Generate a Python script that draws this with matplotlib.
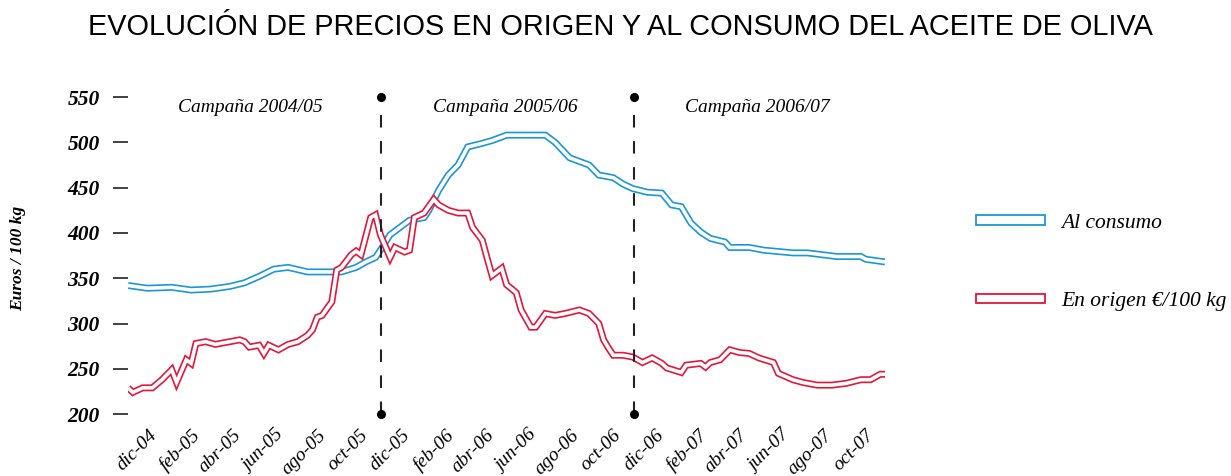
import numpy as np
import pandas as pd
import matplotlib
matplotlib.use("Agg")
import matplotlib.pyplot as plt
from matplotlib.patches import Rectangle

# weekly series, week 0 = 1 Nov 2004
start = pd.Timestamp("2004-11-01")

consumo_weeks = [0, 4, 9, 13, 17, 21, 24, 27, 30, 33, 37, 44, 47, 49, 51, 52, 54, 56, 58, 61,
                 62, 64, 66, 68, 70, 73, 75, 78, 86, 88, 91, 93, 95, 97, 100, 102, 104, 107, 110,
                 112, 114, 116, 118, 120, 123, 124, 128, 131, 135, 137, 140, 146, 151, 152, 156]
consumo_vals = [342, 339, 340, 337, 338, 341, 345, 352, 360, 362, 357, 357, 362, 368, 373, 381, 398,
                406, 414, 417, 425, 447, 464, 475, 495, 499, 502, 508, 508, 500, 483, 479, 475, 464,
                461, 454, 449, 445, 444, 431, 429, 411, 401, 394, 390, 384, 384, 381, 379, 378, 378,
                374, 374, 371, 368]

origen_weeks = [0, 1, 3, 5, 7, 9, 10, 12, 13, 14, 16, 18, 21, 23, 24, 25, 27, 28, 29, 31, 33, 35,
                37, 38, 39, 40, 42, 43, 44, 46, 47, 48, 50, 51, 52, 54, 55, 57, 58, 59, 61, 63, 64,
                66, 68, 70, 71, 73, 74, 75, 77, 78, 80, 81, 83, 84, 86, 88, 90, 93, 95, 97, 98, 99,
                100, 102, 104, 106, 108, 110, 111, 114, 115, 118, 119, 120, 122, 124, 126, 128, 130,
                133, 134, 137, 139, 142, 145, 148, 151, 153, 155, 156]
origen_vals = [229, 224, 229, 229, 238, 249, 235, 260, 256, 278, 280, 277, 280, 282, 280, 274, 276,
               267, 276, 271, 277, 280, 287, 293, 307, 309, 324, 359, 362, 376, 380, 376, 417, 420,
               398, 373, 384, 379, 381, 417, 422, 437, 431, 425, 422, 422, 406, 392, 372, 353, 361,
               343, 334, 315, 296, 296, 311, 309, 311, 315, 311, 300, 282, 273, 265, 265, 263, 257,
               262, 256, 251, 246, 254, 256, 252, 257, 260, 271, 268, 267, 262, 257, 245, 238, 235,
               232, 232, 234, 238, 238, 244, 244]

campaign_starts = ["2005-11-01", "2006-11-01"]
campaign_labels = ["Campaña 2004/05", "Campaña 2005/06", "Campaña 2006/07"]
campaign_centers = ["2005-04-27", "2006-04-29", "2007-04-27"]

tick_dates = pd.date_range("2004-12-01", "2007-10-01", freq="2MS")
meses = ["ene", "feb", "mar", "abr", "may", "jun", "jul", "ago", "sep", "oct", "nov", "dic"]
tick_labels = [f"{meses[d.month - 1]}-{d.year % 100:02d}" for d in tick_dates]

blue = "#1b96d6"
red = "#e2173c"
serif = "Liberation Serif"

consumo_x = start + pd.to_timedelta(np.array(consumo_weeks) * 7, unit="D")
origen_x = start + pd.to_timedelta(np.array(origen_weeks) * 7, unit="D")

fig = plt.figure(figsize=(12.31, 4.76), dpi=100)
ax = fig.add_axes([0.104, 0.130, 0.615, 0.666])


def double_line(x, y, color):
    ax.plot(x, y, color=color, lw=5.0, solid_joinstyle="miter", solid_capstyle="butt")
    ax.plot(x, y, color="white", lw=2.6, solid_joinstyle="miter", solid_capstyle="butt")


double_line(consumo_x, consumo_vals, blue)
double_line(origen_x, origen_vals, red)

for d in campaign_starts:
    d = pd.Timestamp(d)
    ax.plot([d, d], [200, 550], color="#222222", lw=1.5, dashes=(6, 6.5), zorder=5, clip_on=False)
    ax.plot([d, d], [200, 550], ls="none", marker="o", ms=5.5, color="black", zorder=6, clip_on=False)

for lab, c in zip(campaign_labels, campaign_centers):
    ax.text(pd.Timestamp(c), 538, lab, ha="center", va="center", fontsize=14,
            family=serif, style="italic")

ax.set_xlim(start, start + pd.Timedelta(weeks=156))
ax.set_ylim(200, 550)
ax.set_yticks(np.arange(200, 551, 50))
ax.set_xticks(tick_dates)
ax.set_xticklabels(tick_labels, rotation=45, ha="right", rotation_mode="anchor",
                   family=serif, style="italic", fontsize=14)
for t in ax.get_yticklabels():
    t.set_family(serif)
    t.set_style("italic")
    t.set_weight("bold")
    t.set_fontsize(15.5)
ax.tick_params(axis="y", length=10.5, width=1.3, color="#333333", pad=10)
ax.tick_params(axis="x", length=0, pad=9)
for s in ax.spines.values():
    s.set_visible(False)

fig.text(0.0146, 0.458, "Euros / 100 kg", rotation=90, ha="center", va="center",
         family=serif, style="italic", weight="bold", fontsize=12.5)

fig.text(0.504, 0.943, "EVOLUCIÓN DE PRECIOS EN ORIGEN Y AL CONSUMO DEL ACEITE DE OLIVA",
         ha="center", va="center", fontsize=20.8, family="Liberation Sans")

handles = [Rectangle((0, 0), 1, 1, facecolor="white", edgecolor=blue, lw=1.3),
           Rectangle((0, 0), 1, 1, facecolor="white", edgecolor=red, lw=1.3)]
fig.legend(handles, ["Al consumo", "En origen €/100 kg"],
           loc="center left", bbox_to_anchor=(0.793, 0.449), frameon=False,
           borderpad=0, borderaxespad=0,
           handlelength=3.2, handleheight=0.28, labelspacing=2.75, handletextpad=0.75,
           prop={"family": serif, "style": "italic", "size": 15.5})

fig.savefig("out.png", dpi=100)
